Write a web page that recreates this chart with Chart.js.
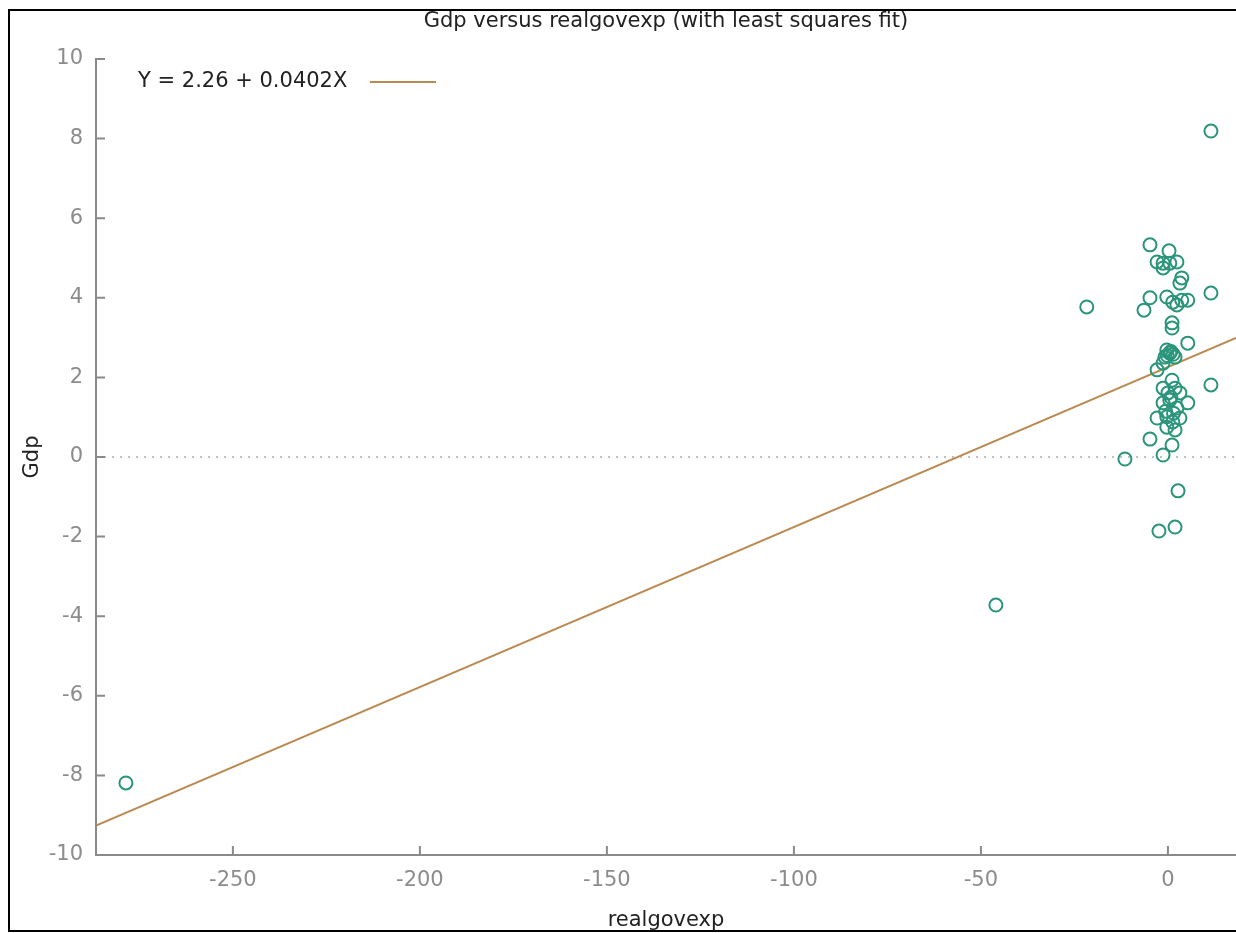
<!DOCTYPE html>
<html>
<head>
<meta charset="utf-8">
<script src="https://cdn.jsdelivr.net/npm/chart.js@4/dist/chart.umd.min.js"></script>
<style>
body { margin: 0; background: #fff; }
canvas { display: block; }
</style>
</head>
<body>
<canvas id="myChart" width="1236" height="933"></canvas>
<script>
// values
var realgovexp = [-278.6, -46.0, -21.7, -11.5, 11.5, 11.5, 11.5,
    -4.8, 0.3, -2.9, -1.3, 2.4, 0.5, -1.3, 3.7, 3.2, -4.8, -6.4, -0.3, 1.3, 3.7, 5.3, 2.4,
    1.1, 1.1, 5.3, -0.3, 0.5, -0.8, 1.9, -1.3, -2.9, 0.8, 1.4, -0.2,
    1.1, -1.3, 1.9, 0.0, 3.2, 0.5, 5.3, -1.3, 2.4, -2.9, -0.3, 1.3, 3.2, -0.3, 1.9,
    0.8, -0.6, 1.5, -4.8, 1.1, -1.3, 2.7, 1.9, -2.4];
var gdp = [-8.19, -3.72, 3.77, -0.05, 8.19, 4.12, 1.81,
    5.33, 5.18, 4.90, 4.87, 4.90, 4.87, 4.75, 4.50, 4.37, 4.00, 3.69, 4.02, 3.89, 3.94, 3.94, 3.82,
    3.37, 3.24, 2.86, 2.69, 2.61, 2.51, 2.51, 2.36, 2.19, 2.65, 2.58, 2.55,
    1.93, 1.73, 1.73, 1.61, 1.61, 1.43, 1.36, 1.36, 1.23, 0.98, 1.01, 0.88, 0.98, 0.75, 0.68,
    1.50, 1.15, 1.10, 0.45, 0.30, 0.05, -0.85, -1.76, -1.86];

var fitIntercept = 2.26;
var fitSlope = 0.0402;
var legendLabel = 'Y = 2.26 + 0.0402X';

var xMin = -286.6, xMax = 18.2;
var yMin = -10, yMax = 10;
var xStep = 50, yStep = 2;

var fontName = "'DejaVu Sans', Verdana, sans-serif";
var fontSize = 21;
var pointColor = '#2a957a';
var fitColor = '#bb8a52';
var axisColor = '#8a8a8a';

function fitValue(x) {
    return fitIntercept + fitSlope * x;
}

var points = realgovexp.map(function (x, i) {
    return {x: x, y: gdp[i]};
});
var fitLine = [{x: xMin, y: fitValue(xMin)}, {x: xMax, y: fitValue(xMax)}];
var zeroLine = [{x: xMin, y: 0}, {x: xMax, y: 0}];

// outer frame of the picture
var framePlugin = {
    id: 'frame',
    beforeDraw: function (chart) {
        var ctx = chart.ctx;
        ctx.save();
        ctx.fillStyle = '#fff';
        ctx.fillRect(0, 0, chart.width, chart.height);
        ctx.strokeStyle = '#000';
        ctx.lineWidth = 2;
        ctx.strokeRect(9, 10, 1300, 921);
        ctx.restore();
    }
};

// gnuplot style ticks pointing into the plot
var innerTicks = {
    id: 'innerTicks',
    afterDraw: function (chart) {
        var ctx = chart.ctx;
        var xs = chart.scales.x, ys = chart.scales.y;
        var area = chart.chartArea;
        ctx.save();
        ctx.strokeStyle = axisColor;
        ctx.lineWidth = 2;
        ctx.beginPath();
        xs.ticks.forEach(function (t) {
            var px = xs.getPixelForValue(t.value);
            ctx.moveTo(px, area.bottom);
            ctx.lineTo(px, area.bottom - 9);
        });
        ys.ticks.forEach(function (t) {
            var py = ys.getPixelForValue(t.value);
            ctx.moveTo(area.left, py);
            ctx.lineTo(area.left + 9, py);
        });
        ctx.stroke();
        ctx.restore();
    }
};

// key in the top left corner: text, then line sample
var fitKey = {
    id: 'fitKey',
    afterDraw: function (chart) {
        var ctx = chart.ctx;
        ctx.save();
        ctx.font = fontSize + 'px ' + fontName;
        ctx.fillStyle = '#222';
        ctx.textBaseline = 'middle';
        ctx.textAlign = 'left';
        ctx.fillText(legendLabel, 138, 82);
        ctx.strokeStyle = fitColor;
        ctx.lineWidth = 2;
        ctx.beginPath();
        ctx.moveTo(370, 82);
        ctx.lineTo(436, 82);
        ctx.stroke();
        ctx.restore();
    }
};

var ctx = document.getElementById('myChart').getContext('2d');
var myChart = new Chart(ctx, {
    type: 'scatter',
    data: {
        datasets: [{
            label: 'zero',
            type: 'line',
            data: zeroLine,
            borderColor: '#aaaaaa',
            borderWidth: 1.5,
            borderDash: [2, 6],
            pointRadius: 0,
            order: 3
        }, {
            label: legendLabel,
            type: 'line',
            data: fitLine,
            borderColor: fitColor,
            borderWidth: 2,
            pointRadius: 0,
            order: 2
        }, {
            label: 'Gdp',
            data: points,
            pointStyle: 'circle',
            pointRadius: 6.5,
            borderWidth: 2,
            borderColor: pointColor,
            backgroundColor: 'rgba(0,0,0,0)',
            order: 1
        }]
    },
    options: {
        responsive: false,
        animation: false,
        devicePixelRatio: 1,
        layout: {padding: 0, autoPadding: false},
        plugins: {
            legend: {display: false},
            tooltip: {enabled: false},
            title: {
                display: true,
                fullSize: false,
                text: 'Gdp versus realgovexp (with least squares fit)',
                color: '#222',
                font: {family: fontName, size: fontSize, weight: 'normal'},
                padding: {top: 9.4, bottom: 24.4}
            }
        },
        scales: {
            x: {
                type: 'linear',
                min: xMin,
                max: xMax,
                afterFit: function (s) { s.height = 78; },
                ticks: {
                    stepSize: xStep,
                    includeBounds: false,
                    color: '#8c8c8c',
                    font: {family: fontName, size: fontSize},
                    padding: 13,
                    maxRotation: 0
                },
                grid: {drawOnChartArea: false, drawTicks: false},
                border: {color: axisColor, width: 2},
                title: {
                    display: true,
                    text: 'realgovexp',
                    color: '#222',
                    font: {family: fontName, size: fontSize},
                    padding: {top: 0, bottom: 0}
                }
            },
            y: {
                type: 'linear',
                min: yMin,
                max: yMax,
                afterFit: function (s) { s.width = 96; },
                ticks: {
                    stepSize: yStep,
                    includeBounds: false,
                    color: '#8c8c8c',
                    font: {family: fontName, size: fontSize},
                    padding: 13
                },
                grid: {drawOnChartArea: false, drawTicks: false},
                border: {color: axisColor, width: 2},
                title: {
                    display: true,
                    text: 'Gdp',
                    color: '#222',
                    font: {family: fontName, size: fontSize},
                    padding: {top: 20, bottom: 0}
                }
            }
        }
    },
    plugins: [framePlugin, innerTicks, fitKey]
});
</script>
</body>
</html>
